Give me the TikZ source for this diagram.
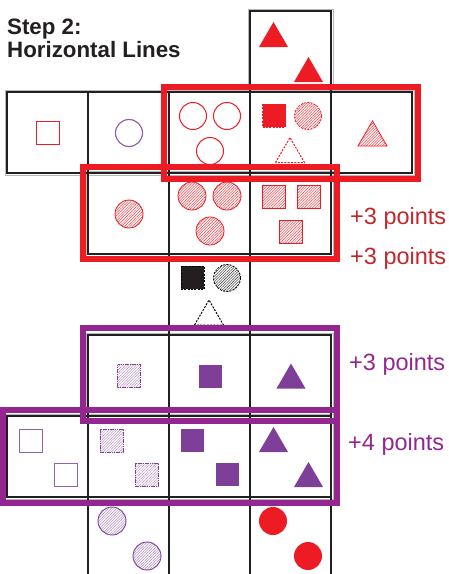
\documentclass[tikz,border=0pt]{standalone}
\usepackage{fontspec}
\setmainfont{Liberation Sans}
\usetikzlibrary{patterns.meta}
\definecolor{redc}{HTML}{ED1C24}
\definecolor{redtxt}{HTML}{C1272D}
\definecolor{purc}{HTML}{7E3F98}
\definecolor{purline}{HTML}{9560AC}
\definecolor{purhl}{HTML}{93278F}
\definecolor{gridc}{HTML}{231F20}
\definecolor{titlec}{HTML}{231F20}
\tikzset{
  trishape/.pic={\path[pic actions] (-14.5,12.5) -- (0,-12.5) -- (14.5,12.5) -- cycle;},
  sqshape/.pic={\path[pic actions] (-11.5,-11.5) rectangle (11.5,11.5);},
  gridline/.style={draw=gridc, line width=1.9pt},
  gridshadow/.style={draw=gray!55, line width=0.9pt},
  redoutline/.style={draw=redc, line width=1pt},
  redsolid/.style={fill=redc},
  redhatch/.style={draw=redc, line width=0.8pt,
    pattern={Lines[angle=45,distance=1.9pt,line width=0.5pt]}, pattern color=redc!85},
  dashedge/.style={dash pattern=on 2pt off 1.3pt},
  puroutline/.style={draw=purline, line width=1pt},
  pursolid/.style={fill=purc},
  purhatch/.style={draw=purc, line width=0.9pt, dash pattern=on 1.6pt off 0.7pt,
    pattern={Lines[angle=45,distance=1.9pt,line width=0.5pt]}, pattern color=purline!75},
  grayhatch/.style={draw=black, line width=0.8pt, dash pattern=on 2pt off 1.3pt,
    pattern={Lines[angle=45,distance=1.9pt,line width=0.55pt]}, pattern color=black!70},
  highlight/.style={line width=5.5pt},
  scoretext/.style={anchor=base west, inner sep=0pt, font=\fontsize{23.5}{26}\selectfont},
  titletext/.style={anchor=base west, inner sep=0pt, text=titlec,
    font=\fontsize{22.3}{24}\selectfont\bfseries},
}
\begin{document}
\begin{tikzpicture}[x=1pt,y=-1pt]
\useasboundingbox (0,0) rectangle (449,574);

% title
\node[titletext] (steptitle) at (7,34) {Step 2:};
\node[titletext] (linetitle) at (7,57) {Horizontal Lines};

% faint shadow lines beside the cell borders
\draw[gridshadow] (5,90) rectangle (414,175);
\draw[gridshadow] (86,171) rectangle (333,256);
\draw[gridshadow] (86,333) rectangle (333,418);
\draw[gridshadow] (5,414) rectangle (333,499);
\draw[gridshadow] (248,92) -- (248,9) -- (333,9) -- (333,92);

% cell grid
\draw[gridline] (7,92) rectangle (412,173);
\foreach \x in {88,169,250,331} \draw[gridline] (\x,92) -- (\x,173);
\draw[gridline] (88,173) rectangle (331,254);
\foreach \x in {169,250} \draw[gridline] (\x,173) -- (\x,254);
\draw[gridline] (88,335) rectangle (331,416);
\foreach \x in {169,250} \draw[gridline] (\x,335) -- (\x,416);
\draw[gridline] (7,416) rectangle (331,497);
\foreach \x in {88,169,250} \draw[gridline] (\x,416) -- (\x,497);
% open column above, between and below the rows
\draw[gridline] (250,92) -- (250,11) -- (331,11) -- (331,92);
\foreach \x in {169,250} \draw[gridline] (\x,254) -- (\x,335);
\foreach \x in {88,169,250,331} \draw[gridline] (\x,497) -- (\x,574);

% column above the first row
\pic[redsolid] at (273.5,34.5) {trishape};
\pic[redsolid] at (308.5,69.5) {trishape};

% first row
\pic[redoutline] at (47.5,133) {sqshape};
\draw[puroutline, line width=1.2pt] (129,133) circle[radius=13.5];
\foreach \p in {(193,116),(227,116),(210,151)} \draw[redoutline] \p circle[radius=13.5];
\pic[redsolid, draw=redc, line width=0.8pt, dashedge] at (274,115.5) {sqshape};
\draw[redhatch, dashedge] (308,116) circle[radius=13.5];
\pic[draw=redc, line width=1pt, dashedge] at (290,150) {trishape};
\pic[redhatch] at (372.5,133.5) {trishape};

% second row
\draw[redhatch] (129,214) circle[radius=14];
\foreach \p in {(192,196),(227,196),(210,231)} \draw[redhatch] \p circle[radius=14];
\foreach \p in {(273.5,196.5),(308.5,196.5),(291,231.5)} \pic[redhatch] at \p {sqshape};

% column between the red and purple rows
\pic[fill=gridc, draw=black, line width=0.8pt, dashedge] at (192.5,277.5) {sqshape};
\draw[grayhatch] (227,278) circle[radius=13.5];
\pic[draw=black, line width=1pt, dashedge] at (209,312.5) {trishape};

% third row
\pic[purhatch] at (129,376) {sqshape};
\pic[pursolid] at (210,376) {sqshape};
\pic[pursolid] at (291,376) {trishape};

% fourth row
\pic[puroutline] at (30.5,440.5) {sqshape};
\pic[puroutline] at (65.5,474.5) {sqshape};
\pic[purhatch] at (111.5,440.5) {sqshape};
\pic[purhatch] at (146.5,474.5) {sqshape};
\pic[pursolid] at (192.5,440.5) {sqshape};
\pic[pursolid] at (227.5,474.5) {sqshape};
\pic[pursolid] at (273.5,439.5) {trishape};
\pic[pursolid] at (308.5,474.5) {trishape};

% column below the rows
\draw[purhatch, dash pattern=on 20pt off 0pt] (112,521) circle[radius=14];
\draw[purhatch, dash pattern=on 20pt off 0pt] (147,556) circle[radius=14];
\fill[redc] (273,521) circle[radius=14];
\fill[redc] (308,556) circle[radius=14];

% highlighted horizontal lines
\draw[highlight, redc] (164,87) rectangle (418,179);
\draw[highlight, redc] (83,167) rectangle (337,259);
\draw[highlight, purhl] (83,328) rectangle (337,421);
\draw[highlight, purhl] (2.75,410) rectangle (337,503);

% scores
\node[scoretext, text=redtxt] (scoreA) at (350,224) {+3 points};
\node[scoretext, text=redtxt] (scoreB) at (350,264) {+3 points};
\node[scoretext, text=purhl] (scoreC) at (349,370) {+3 points};
\node[scoretext, text=purhl] (scoreD) at (348,450) {+4 points};
\end{tikzpicture}
\end{document}
